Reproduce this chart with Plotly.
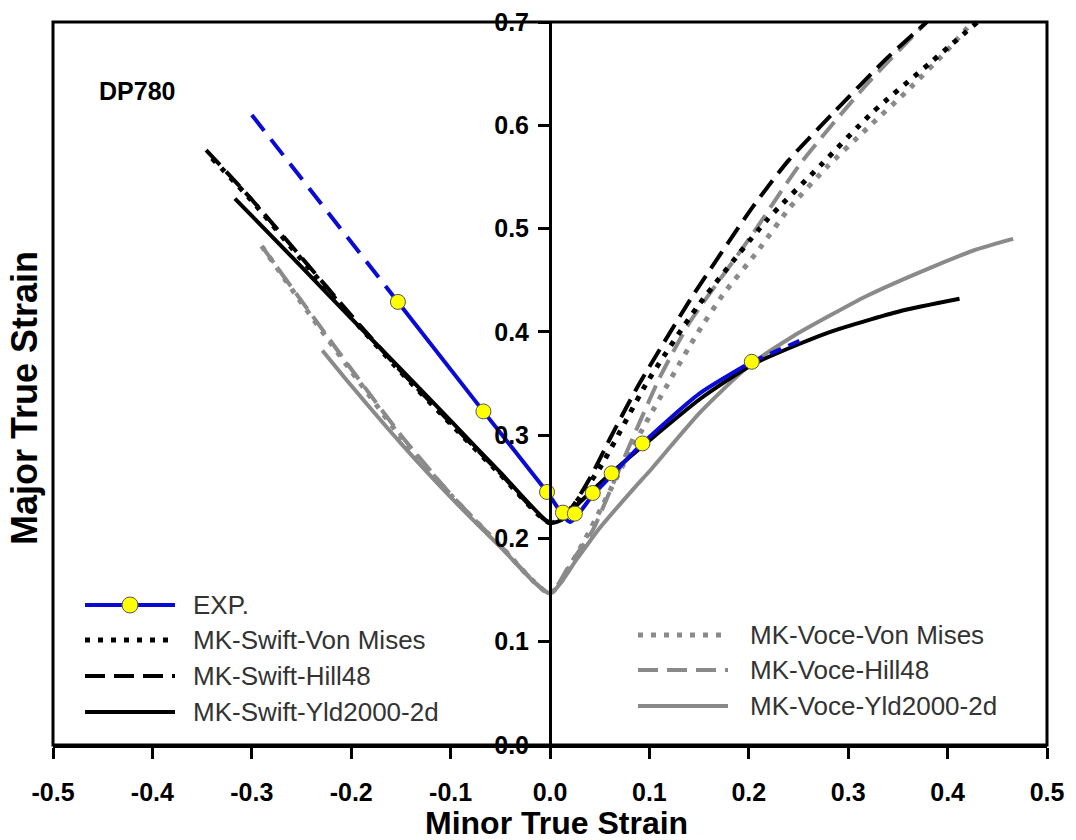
import plotly.graph_objects as go

# ---------------- data ----------------
x_tick_vals = [-0.5, -0.4, -0.3, -0.2, -0.1, 0.0, 0.1, 0.2, 0.3, 0.4, 0.5]
x_tick_text = ["-0.5", "-0.4", "-0.3", "-0.2", "-0.1", "0.0", "0.1", "0.2", "0.3", "0.4", "0.5"]
y_tick_vals = [0.0, 0.1, 0.2, 0.3, 0.4, 0.5, 0.6, 0.7]
y_tick_text = ["0.0", "0.1", "0.2", "0.3", "0.4", "0.5", "0.6", "0.7"]

# Experimental points
exp_x = [-0.153, -0.067, -0.003, 0.013, 0.025, 0.043, 0.062, 0.093, 0.203]
exp_y = [0.429, 0.323, 0.245, 0.225, 0.224, 0.244, 0.263, 0.292, 0.371]
# Experimental FLC fit (solid part) and extrapolations (dashed)
exp_fit_x = [-0.153, -0.067, -0.003, 0.02, 0.043, 0.062, 0.093, 0.15, 0.203]
exp_fit_y = [0.429, 0.323, 0.245, 0.216, 0.242, 0.261, 0.292, 0.340, 0.371]
exp_ext_left_x = [-0.300, -0.153]
exp_ext_left_y = [0.610, 0.429]
exp_ext_right_x = [0.203, 0.255]
exp_ext_right_y = [0.371, 0.393]

# MK-Swift models (black)
swift_vm_x = [-0.340, -0.30, -0.25, -0.20, -0.15, -0.10, -0.05, 0.0, 0.02, 0.05, 0.097, 0.148, 0.218, 0.272, 0.325, 0.382, 0.430]
swift_vm_y = [0.568, 0.527, 0.470, 0.414, 0.361, 0.311, 0.262, 0.215, 0.228, 0.268, 0.350, 0.424, 0.508, 0.561, 0.613, 0.660, 0.700]

swift_h48_x = [-0.346, -0.30, -0.25, -0.20, -0.15, -0.10, -0.05, 0.0, 0.02, 0.04, 0.06, 0.087, 0.141, 0.204, 0.240, 0.285, 0.339, 0.379]
swift_h48_y = [0.576, 0.528, 0.472, 0.416, 0.362, 0.312, 0.263, 0.215, 0.228, 0.258, 0.296, 0.345, 0.431, 0.521, 0.566, 0.612, 0.665, 0.700]

swift_yld_x = [-0.317, -0.25, -0.20, -0.15, -0.10, -0.05, 0.0, 0.012, 0.03, 0.06, 0.094, 0.151, 0.203, 0.250, 0.285, 0.352, 0.412]
swift_yld_y = [0.529, 0.463, 0.413, 0.364, 0.314, 0.264, 0.215, 0.218, 0.235, 0.262, 0.290, 0.335, 0.368, 0.388, 0.401, 0.420, 0.432]

# MK-Voce models (grey)
voce_vm_x = [-0.290, -0.25, -0.20, -0.15, -0.10, -0.05, 0.0, 0.03, 0.073, 0.10, 0.146, 0.174, 0.208, 0.241, 0.279, 0.319, 0.359, 0.399, 0.425]
voce_vm_y = [0.483, 0.428, 0.362, 0.298, 0.242, 0.193, 0.147, 0.190, 0.270, 0.318, 0.395, 0.436, 0.477, 0.520, 0.560, 0.597, 0.633, 0.672, 0.700]

voce_h48_x = [-0.290, -0.25, -0.20, -0.15, -0.10, -0.05, 0.0, 0.02, 0.043, 0.06, 0.08, 0.11, 0.141, 0.184, 0.204, 0.252, 0.319, 0.379]
voce_h48_y = [0.483, 0.430, 0.364, 0.300, 0.243, 0.193, 0.147, 0.175, 0.208, 0.245, 0.290, 0.355, 0.410, 0.468, 0.495, 0.563, 0.640, 0.700]

voce_yld_x = [-0.229, -0.20, -0.15, -0.10, -0.05, 0.0, 0.027, 0.05, 0.084, 0.10, 0.151, 0.20, 0.245, 0.282, 0.319, 0.385, 0.43, 0.466]
voce_yld_y = [0.382, 0.348, 0.292, 0.240, 0.192, 0.147, 0.180, 0.210, 0.248, 0.265, 0.322, 0.367, 0.396, 0.416, 0.435, 0.463, 0.480, 0.490]

series_names = ["EXP.", "MK-Swift-Von Mises", "MK-Swift-Hill48", "MK-Swift-Yld2000-2d",
                "MK-Voce-Von Mises", "MK-Voce-Hill48", "MK-Voce-Yld2000-2d"]

# ---------------- styles ----------------
BLUE = "#0a0ad6"
GREY = "#8a8a8a"
BLACK = "#000000"
YELLOW = "#ffff00"
FONT = "Liberation Sans, Arial, sans-serif"
DOT = "5px,8px"
DASH = "20px,9px"
LW = 4

fig = go.Figure()

def add_line(x, y, color, dash, name, width=LW):
    fig.add_trace(go.Scatter(x=x, y=y, mode="lines", name=name,
                             line=dict(color=color, width=width, dash=dash, shape="spline", smoothing=0.6),
                             showlegend=False, hoverinfo="skip"))

add_line(voce_yld_x, voce_yld_y, GREY, "solid", series_names[6])
add_line(voce_h48_x, voce_h48_y, GREY, DASH, series_names[5])
add_line(voce_vm_x, voce_vm_y, GREY, DOT, series_names[4], width=5)
add_line(swift_yld_x, swift_yld_y, BLACK, "solid", series_names[3])
add_line(swift_h48_x, swift_h48_y, BLACK, DASH, series_names[2])
add_line(swift_vm_x, swift_vm_y, BLACK, DOT, series_names[1], width=5)
add_line(exp_ext_left_x, exp_ext_left_y, BLUE, "20px,11px", "EXP. extrapolation")
add_line(exp_ext_right_x, exp_ext_right_y, BLUE, "12px,8px", "EXP. extrapolation")
add_line(exp_fit_x, exp_fit_y, BLUE, "solid", series_names[0])
fig.add_trace(go.Scatter(x=exp_x, y=exp_y, mode="markers", name=series_names[0],
                         marker=dict(size=15, color=YELLOW, line=dict(color="#555555", width=1)),
                         showlegend=False, hoverinfo="skip"))

# ---------------- axes ----------------
tickfont = dict(family=FONT, size=25, color="black", weight="bold")
fig.update_xaxes(range=[-0.5, 0.5], tickvals=x_tick_vals, ticktext=x_tick_text, automargin=False,
                 showgrid=False, zeroline=False, showline=True, linecolor="black", linewidth=3,
                 ticks="outside", ticklen=11, tickwidth=3, tickcolor="black",
                 tickfont=tickfont, ticklabelstandoff=12)
fig.update_yaxes(range=[0, 0.7], tickvals=y_tick_vals, ticktext=y_tick_text, automargin=False,
                 anchor="free", position=0.5,
                 showgrid=False, zeroline=False, showline=True, linecolor="black", linewidth=3,
                 ticks="outside", ticklen=11, tickwidth=3, tickcolor="black",
                 tickfont=tickfont, ticklabelstandoff=4)

W, H = 1076, 840
ML, MR, MT, MB = 53, 29, 22, 95
PW, PH = W - ML - MR, H - MT - MB

def px(xpix):
    return (xpix - ML) / PW

def py(ypix):
    return (H - MB - ypix) / PH

shapes = [dict(type="rect", xref="paper", yref="paper", x0=0, x1=1, y0=0, y1=1,
               line=dict(color="black", width=3), layer="above")]
annotations = []

# legend (drawn manually to reproduce long sample lines)
left_rows = [605, 640, 676, 712]
right_rows = [635, 670, 706]
left_styles = [(BLUE, "solid", LW), (BLACK, DOT, 5), (BLACK, DASH, LW), (BLACK, "solid", LW)]
right_styles = [(GREY, DOT, 5), (GREY, DASH, LW), (GREY, "solid", LW)]
legfont = dict(family=FONT, size=26, color="#333333")

for i, row in enumerate(left_rows):
    c, d, w = left_styles[i]
    shapes.append(dict(type="line", xref="paper", yref="paper", x0=px(85), x1=px(175),
                       y0=py(row), y1=py(row), line=dict(color=c, width=w, dash=d)))
    annotations.append(dict(xref="paper", yref="paper", x=px(191), y=py(row), text=series_names[i],
                            showarrow=False, xanchor="left", yanchor="middle", font=legfont))
shapes.append(dict(type="circle", xref="paper", yref="paper", x0=px(122), x1=px(138),
                   y0=py(left_rows[0] + 8), y1=py(left_rows[0] - 8),
                   fillcolor=YELLOW, line=dict(color="#555555", width=1)))
for i, row in enumerate(right_rows):
    c, d, w = right_styles[i]
    shapes.append(dict(type="line", xref="paper", yref="paper", x0=px(638), x1=px(728),
                       y0=py(row), y1=py(row), line=dict(color=c, width=w, dash=d)))
    annotations.append(dict(xref="paper", yref="paper", x=px(748), y=py(row), text=series_names[4 + i],
                            showarrow=False, xanchor="left", yanchor="middle", font=legfont))

annotations.append(dict(xref="paper", yref="paper", x=px(137), y=py(91), text="DP780",
                        showarrow=False, xanchor="center", yanchor="middle",
                        font=dict(family=FONT, size=25, color="black", weight="bold")))
annotations.append(dict(xref="paper", yref="paper", x=px(556), y=py(823), text="Minor True Strain",
                        showarrow=False, xanchor="center", yanchor="middle",
                        font=dict(family=FONT, size=32, color="black", weight="bold")))
annotations.append(dict(xref="paper", yref="paper", x=px(25), y=py(398), text="Major True Strain",
                        showarrow=False, xanchor="center", yanchor="middle", textangle=-90,
                        font=dict(family=FONT, size=36, color="black", weight="bold")))

fig.update_layout(width=W, height=H, margin=dict(l=ML, r=MR, t=MT, b=MB, autoexpand=False),
                  plot_bgcolor="white", paper_bgcolor="white", showlegend=False,
                  shapes=shapes, annotations=annotations)

fig.write_html("out.html", config={"displayModeBar": False},
               post_script="document.body.style.margin='0';document.body.style.overflow='hidden';")
